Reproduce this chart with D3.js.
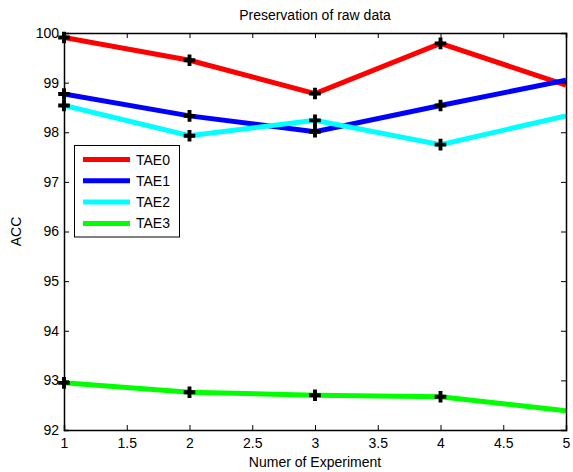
<!DOCTYPE html>
<html><head><meta charset="utf-8">
<script src="https://cdn.jsdelivr.net/npm/d3@7"></script>
<style>body{margin:0;background:#fff}text{font-family:"Liberation Sans",Arial,sans-serif;fill:#000}</style>
</head><body>
<script>
const xValues = [1, 2, 3, 4, 5];
const seriesNames = ["TAE0", "TAE1", "TAE2", "TAE3"];
const seriesColors = ["#ff0000", "#0000ff", "#00ffff", "#00ff00"];
const tae0 = [99.91, 99.45, 98.78, 99.79, 98.95];
const tae1 = [98.77, 98.33, 98.01, 98.54, 99.05];
const tae2 = [98.54, 97.93, 98.24, 97.75, 98.33];
const tae3 = [92.95, 92.76, 92.70, 92.67, 92.39];
const xTicks = [1, 1.5, 2, 2.5, 3, 3.5, 4, 4.5, 5];
const yTicks = [92, 93, 94, 95, 96, 97, 98, 99, 100];
const allSeries = [tae0, tae1, tae2, tae3];

const W = 573, H = 472;
const m = {l: 64, r: 7, t: 33, b: 42};
const svg = d3.select("body").append("svg").attr("width", W).attr("height", H);
const x = d3.scaleLinear().domain([1, 5]).range([m.l, W - m.r]);
const y = d3.scaleLinear().domain([92, 100]).range([H - m.b, m.t]);

svg.append("defs").append("clipPath").attr("id", "clip").append("rect")
  .attr("x", m.l).attr("y", m.t).attr("width", W - m.l - m.r).attr("height", H - m.t - m.b);

const line = d3.line().x((d, i) => x(xValues[i])).y(d => y(d));
const g = svg.append("g").attr("clip-path", "url(#clip)");
allSeries.forEach((s, k) => {
  g.append("path").attr("d", line(s)).attr("fill", "none")
    .attr("stroke", seriesColors[k]).attr("stroke-width", 5);
});
const sym = d3.symbol().type(d3.symbolCross).size(75);
allSeries.forEach(s => {
  s.slice(0, 4).forEach((v, i) => {
    svg.append("path").attr("d", sym())
      .attr("transform", `translate(${x(xValues[i])},${y(v)})`).attr("fill", "#000");
  });
});

// axes
const fs = 14;
const ax = svg.append("g").attr("transform", `translate(0,${H - m.b})`)
  .call(d3.axisBottom(x).tickValues(xTicks).tickSize(-5).tickPadding(8).tickFormat(d3.format("")));
const axT = svg.append("g").attr("transform", `translate(0,${m.t})`)
  .call(d3.axisTop(x).tickValues(xTicks).tickSize(-5).tickFormat(""));
const ay = svg.append("g").attr("transform", `translate(${m.l},0)`)
  .call(d3.axisLeft(y).tickValues(yTicks).tickSize(-5).tickPadding(5).tickFormat(d3.format("")));
const ayR = svg.append("g").attr("transform", `translate(${W - m.r},0)`)
  .call(d3.axisRight(y).tickValues(yTicks).tickSize(-5).tickFormat(""));
[ax, axT, ay, ayR].forEach(a => {
  a.select(".domain").attr("stroke", "#000").attr("stroke-width", 1.5);
  a.selectAll(".tick line").attr("stroke", "#000");
  a.selectAll("text").attr("font-size", fs).attr("font-family", "Liberation Sans, Arial, sans-serif");
});

svg.append("text").attr("x", (m.l + W - m.r) / 2).attr("y", 20).attr("text-anchor", "middle")
  .attr("font-size", 14).text("Preservation of raw data");
svg.append("text").attr("x", (m.l + W - m.r) / 2).attr("y", 467).attr("text-anchor", "middle")
  .attr("font-size", 14).text("Numer of Experiment");
svg.append("text").attr("transform", `translate(21,${(m.t + H - m.b) / 2}) rotate(-90)`)
  .attr("text-anchor", "middle").attr("font-size", 14).text("ACC");

// legend
const lg = svg.append("g");
lg.append("rect").attr("x", 74.5).attr("y", 145.5).attr("width", 105).attr("height", 91.5)
  .attr("fill", "#fff").attr("stroke", "#000").attr("stroke-width", 1);
seriesNames.forEach((n, k) => {
  const yy = 159.5 + k * 21.3;
  lg.append("line").attr("x1", 83).attr("x2", 130).attr("y1", yy).attr("y2", yy)
    .attr("stroke", seriesColors[k]).attr("stroke-width", 5);
  lg.append("text").attr("x", 136).attr("y", yy + 5).attr("font-size", 14).text(n);
});
</script>
</body></html>
